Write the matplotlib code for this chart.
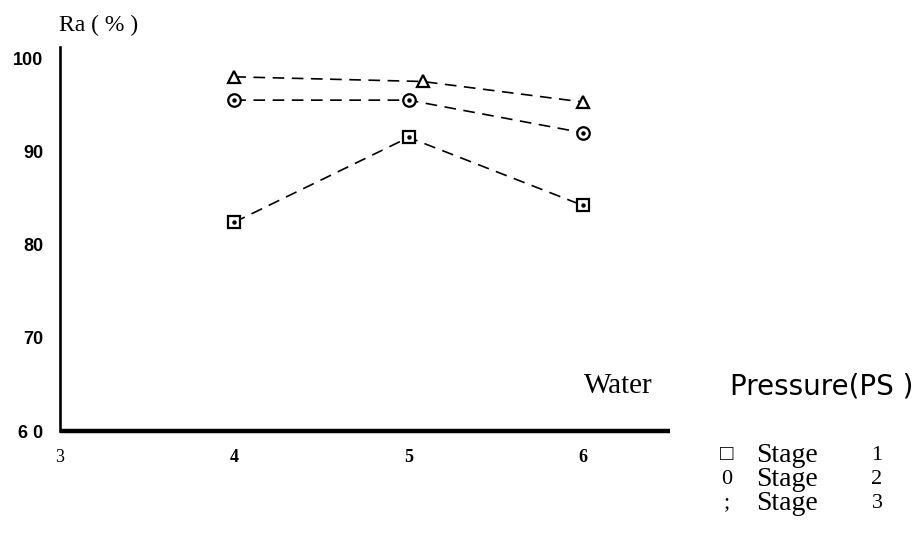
import matplotlib
matplotlib.use("Agg")
import matplotlib.pyplot as plt

# ---- data ----
x_stage1 = [4, 5, 6]
stage1 = [82.4, 91.5, 84.2]
x_stage2 = [4, 5, 6]
stage2 = [95.5, 95.5, 92.0]
x_stage3 = [4, 5.08, 6]
stage3 = [98.0, 97.5, 95.3]

x_ticks = [3, 4, 5, 6]
x_ticklabels = ["3", "4", "5", "6"]
y_ticks = [60, 70, 80, 90, 100]
y_ticklabels = ["6 0", "70", "80", "90", "100"]

W, H = 919, 538
fig = plt.figure(figsize=(W / 100, H / 100), dpi=100)
ax = fig.add_axes([60 / W, (H - 431) / H, 610 / W, 384 / H])
ax.set_xlim(3, 6.5)
ax.set_ylim(60, 101.2)

serif = ["Liberation Serif", "DejaVu Serif"]
sans = ["Liberation Sans", "DejaVu Sans"]

line_kw = dict(color="black", linewidth=1.2, dashes=(7, 4.5), markersize=9,
               markerfacecolor="white", markeredgecolor="black", markeredgewidth=1.6,
               zorder=2)
ax.plot(x_stage1, stage1, marker="s", **line_kw)
ax.plot(x_stage2, stage2, marker="o", **line_kw)
ax.plot(x_stage3, stage3, marker="^", **line_kw)
# center dots
ax.plot(x_stage1, stage1, linestyle="none", marker="o", markersize=2.2, color="black", zorder=3)
ax.plot(x_stage2, stage2, linestyle="none", marker="o", markersize=2.2, color="black", zorder=3)

for s in ["top", "right"]:
    ax.spines[s].set_visible(False)
ax.spines["left"].set_linewidth(1.9)
ax.spines["bottom"].set_linewidth(3.2)
ax.spines["bottom"].set_capstyle("butt")

ax.set_xticks(x_ticks)
ax.set_xticklabels(x_ticklabels)
ax.set_yticks(y_ticks)
ax.set_yticklabels(y_ticklabels)
ax.tick_params(axis="both", length=0)
ax.tick_params(axis="y", pad=12)
ax.tick_params(axis="x", pad=13)
for lab in ax.get_yticklabels():
    lab.set_fontfamily(sans)
    lab.set_fontweight("bold")
    lab.set_fontsize(13)
for i, lab in enumerate(ax.get_xticklabels()):
    lab.set_fontfamily(serif)
    lab.set_fontsize(13)
    if i > 0:
        lab.set_fontweight("bold")

fig.text(59 / W, 1 - 25 / H, "Ra ( % )", family=serif, fontsize=17,
         ha="left", va="center")
fig.text(618 / W, 1 - 386 / H, "Water", family=serif, fontsize=21,
         ha="center", va="center")
fig.text(913 / W, 1 - 387 / H, "Pressure(PS )", family=["DejaVu Sans"], fontsize=20,
         ha="right", va="center")

legend_sym = ["\u25a1", "0", ";"]
legend_word = ["Stage", "Stage", "Stage"]
legend_num = ["1", "2", "3"]
legend_y = [456, 479, 503]
for sym, word, num, yy in zip(legend_sym, legend_word, legend_num, legend_y):
    fig.text(727 / W, 1 - yy / H, sym, family=["Liberation Serif", "DejaVu Sans"],
             fontsize=16, ha="center", va="center")
    fig.text(756 / W, 1 - yy / H, word, family=serif, fontsize=20,
             ha="left", va="center")
    fig.text(877 / W, 1 - yy / H, num, family=serif, fontsize=16,
             ha="center", va="center")

fig.savefig("out.png", dpi=100)
